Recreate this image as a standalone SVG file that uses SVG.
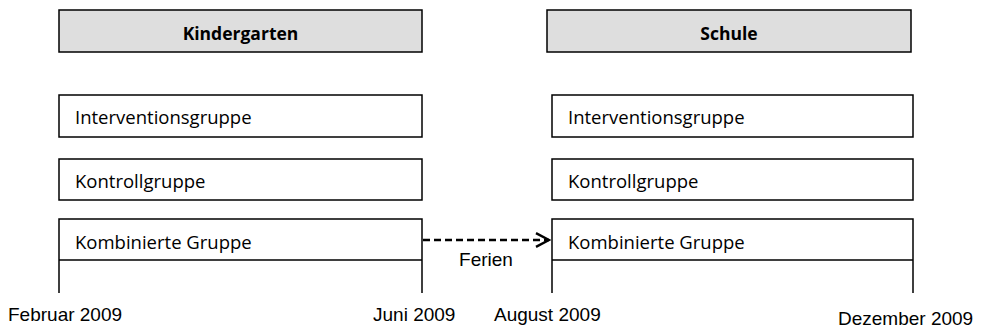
<svg xmlns="http://www.w3.org/2000/svg" width="982" height="328" viewBox="0 0 982 328">
<defs>
<style>
.hdr{fill:#dedede;stroke:#000;stroke-width:1.5}
.box{fill:#fff;stroke:#000;stroke-width:1.5}
.ln{stroke:#000;stroke-width:1.5;fill:none}
.ht{font-family:"Open Sans","Liberation Sans",sans-serif;font-weight:bold;font-size:17.5px;text-anchor:middle;fill:#000}
.bt{font-family:"Open Sans","Liberation Sans",sans-serif;font-size:18.5px;fill:#000}
.dt{font-family:"Liberation Sans",Arial,sans-serif;font-size:19px;fill:#000}
</style>
<marker id="arr" viewBox="0 0 10 10" refX="9" refY="5" markerWidth="6.5" markerHeight="6.5" orient="auto" markerUnits="strokeWidth">
<path d="M1,0.8 L9,5 L1,9.2" fill="none" stroke="#000" stroke-width="1.5"/>
</marker>
</defs>
<g id="kindergarten"><rect class="hdr" x="59" y="10" width="363" height="42"/><text class="ht" x="240.5" y="39.5">Kindergarten</text></g>
<g id="schule"><rect class="hdr" x="547" y="10" width="364" height="42"/><text class="ht" x="729" y="39.5">Schule</text></g>
<g id="k-intervention"><rect class="box" x="59" y="95" width="363" height="42"/><text class="bt" x="75" y="124">Interventionsgruppe</text></g>
<g id="k-kontroll"><rect class="box" x="59" y="159" width="363" height="41"/><text class="bt" x="75" y="188">Kontrollgruppe</text></g>
<g id="k-kombiniert"><path class="ln" d="M59,293 V219 H422 V293 M59,260 H422"/><text class="bt" x="75" y="249">Kombinierte Gruppe</text></g>
<g id="s-intervention"><rect class="box" x="552" y="95" width="361" height="42"/><text class="bt" x="568" y="124">Interventionsgruppe</text></g>
<g id="s-kontroll"><rect class="box" x="552" y="159" width="361" height="41"/><text class="bt" x="568" y="188">Kontrollgruppe</text></g>
<g id="s-kombiniert"><path class="ln" d="M552,293 V219 H913 V293 M552,260 H913"/><text class="bt" x="568" y="249">Kombinierte Gruppe</text></g>
<g id="connectors"><line x1="423" y1="240" x2="549" y2="240" stroke="#000" stroke-width="2.5" stroke-dasharray="7,4" marker-end="url(#arr)"/></g>
<g id="labels">
<text class="dt" x="486" y="266" text-anchor="middle">Ferien</text>
<text class="dt" x="8" y="321">Februar 2009</text>
<text class="dt" x="373" y="321">Juni 2009</text>
<text class="dt" x="494" y="321">August 2009</text>
<text class="dt" x="838" y="325">Dezember 2009</text>
</g>
</svg>
